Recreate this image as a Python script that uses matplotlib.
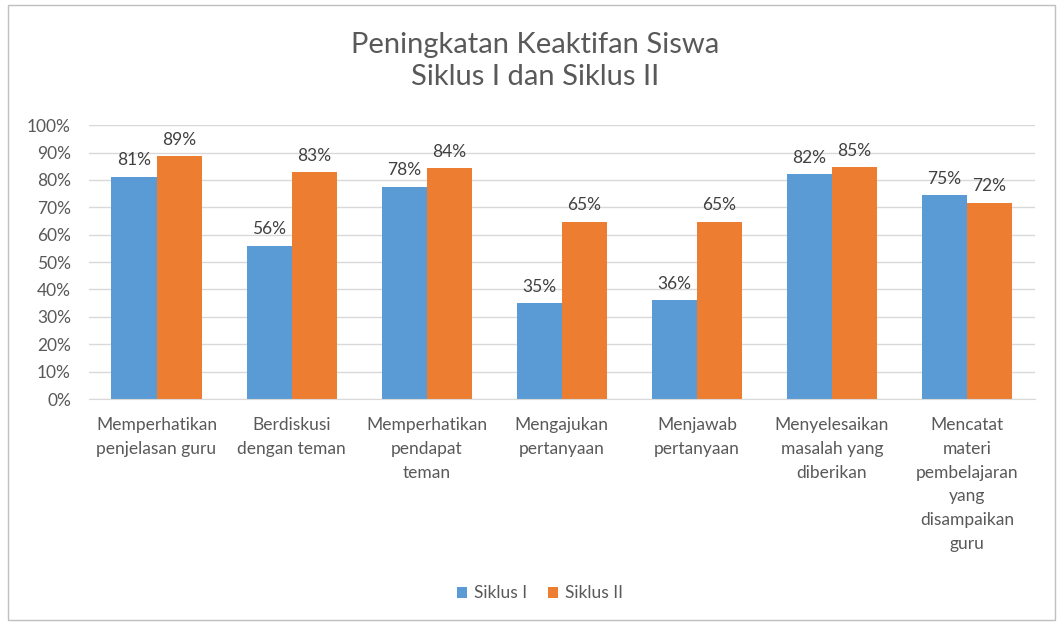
import numpy as np
import matplotlib.pyplot as plt
from matplotlib.patches import Rectangle

# data
categories = [
    "Memperhatikan\npenjelasan guru",
    "Berdiskusi\ndengan teman",
    "Memperhatikan\npendapat\nteman",
    "Mengajukan\npertanyaan",
    "Menjawab\npertanyaan",
    "Menyelesaikan\nmasalah yang\ndiberikan",
    "Mencatat\nmateri\npembelajaran\nyang\ndisampaikan\nguru",
]
siklus_1 = [81.2, 56.0, 77.6, 35.0, 36.0, 82.0, 74.6]
siklus_2 = [88.6, 82.8, 84.2, 64.8, 64.8, 84.6, 71.7]
yticks = [0, 10, 20, 30, 40, 50, 60, 70, 80, 90, 100]

plt.rcParams['font.family'] = ['Lato', 'DejaVu Sans']
txt = '#595959'

fig = plt.figure(figsize=(10.59, 6.26), dpi=100)
ax = fig.add_axes([0.084, 0.3626, 0.893, 0.4374])

x = np.arange(len(categories))
w = 1 / 3
b1 = ax.bar(x - w / 2, siklus_1, w, color='#5B9BD5', label='Siklus I', zorder=2)
b2 = ax.bar(x + w / 2, siklus_2, w, color='#ED7D31', label='Siklus II', zorder=2)

for bars, vals in ((b1, siklus_1), (b2, siklus_2)):
    for r, v in zip(bars, vals):
        ax.text(r.get_x() + r.get_width() / 2, v + 3, f"{v:.0f}%",
                ha='center', va='bottom', fontsize=12.5, color='#404040')

ax.set_xlim(-0.5, len(categories) - 0.5)
ax.set_ylim(0, 100)
ax.set_yticks(yticks)
ax.set_yticklabels([f"{t}%" for t in yticks], fontsize=12.5, color=txt)
ax.set_xticks(x)
ax.set_xticklabels(categories, fontsize=12.5, color=txt, linespacing=1.6, va='top')
ax.tick_params(axis='both', length=0)
ax.tick_params(axis='x', pad=13)
ax.tick_params(axis='y', pad=13)
ax.grid(axis='y', color='#D9D9D9', linewidth=1, zorder=0)
for s in ['top', 'right', 'left']:
    ax.spines[s].set_visible(False)
ax.spines['bottom'].set_color('#D9D9D9')

fig.text(0.505, 0.902, "Peningkatan Keaktifan Siswa\nSiklus I dan Siklus II",
         ha='center', va='center', fontsize=21, color=txt, linespacing=1.3)

fig.legend(loc='center', bbox_to_anchor=(0.51, 0.052), ncol=2, frameon=False,
           fontsize=12.5, labelcolor=txt, handlelength=0.6, handleheight=0.6,
           handletextpad=0.4, columnspacing=1.2)

fig.patches.append(Rectangle((0.008, 0.01), 0.988, 0.982, transform=fig.transFigure,
                             fill=False, edgecolor='#BFBFBF', linewidth=1))

fig.savefig("out.png", dpi=100)
